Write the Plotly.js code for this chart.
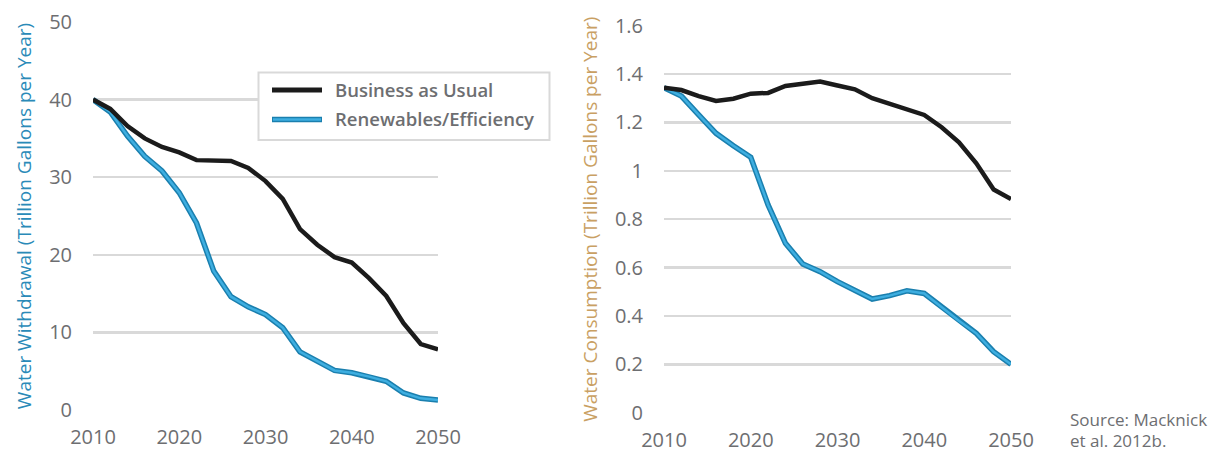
<!DOCTYPE html>
<html>
<head>
<meta charset="utf-8">
<script src="https://cdn.plot.ly/plotly-3.0.1.min.js"></script>
<style>html,body{margin:0;padding:0;background:#fff;}#chart{width:1211px;height:452px;}</style>
</head>
<body>
<div id="chart"></div>
<script>
const years = [2010,2012,2014,2016,2018,2020,2022,2024,2026,2028,2030,2032,2034,2036,2038,2040,2042,2044,2046,2048,2050];
const withdrawalBAU = [40,38.8,36.6,35.0,33.9,33.2,32.2,32.2,32.1,31.2,29.5,27.2,23.3,21.3,19.7,19.0,17.0,14.7,11.2,8.5,7.8];
const withdrawalRE = [40,38.4,35.3,32.7,30.8,28.0,24.1,17.9,14.6,13.3,12.3,10.6,7.5,6.3,5.1,4.8,4.3,3.7,2.2,1.5,1.3];
const consumptionBAU = [1.344,1.334,1.309,1.289,1.298,1.319,1.322,1.351,1.360,1.369,1.353,1.337,1.300,1.278,1.256,1.231,1.180,1.118,1.031,0.923,0.883];
const consumptionRE = [1.344,1.309,1.231,1.155,1.104,1.056,0.859,0.700,0.615,0.583,0.542,0.507,0.470,0.484,0.504,0.493,0.436,0.380,0.328,0.252,0.200];
const seriesNames = ["Business as Usual","Renewables/Efficiency"];
const xTicks = [2010,2020,2030,2040,2050];
const leftTicks = [0,10,20,30,40,50];
const rightTicks = [0,0.2,0.4,0.6,0.8,1,1.2,1.4,1.6];
const rightTickText = ["0","0.2","0.4","0.6","0.8","1","1.2","1.4","1.6"];
const leftTitle = "Water Withdrawal (Trillion Gallons per Year)";
const rightTitle = "Water Consumption (Trillion Gallons per Year)";
const sourceLines = ["Source: Macknick", "et al. 2012b."];

const BLACK = "#1b1b1b", BLUE_OUT = "#1a7fae", BLUE_IN = "#3eaee0", GRAY = "#6d6e71", GRID = "#d9d9d9";
const font = "Open Sans, sans-serif";

function trace(x, y, color, width, xa, ya) {
  return {x: x, y: y, type: "scatter", mode: "lines", xaxis: xa, yaxis: ya,
    line: {color: color, width: width, shape: "linear"}, showlegend: false, hoverinfo: "skip"};
}
const data = [
  trace(years, withdrawalRE, BLUE_OUT, 5.5, "x", "y"),
  trace(years, withdrawalRE, BLUE_IN, 2.5, "x", "y"),
  trace(years, withdrawalBAU, BLACK, 4.5, "x", "y"),
  trace(years, consumptionRE, BLUE_OUT, 5.5, "x2", "y2"),
  trace(years, consumptionRE, BLUE_IN, 2.5, "x2", "y2"),
  trace(years, consumptionBAU, BLACK, 4.5, "x2", "y2")
];

const W = 1211, H = 452;
const px = v => v / W, py = v => 1 - v / H;

const xaxisBase = {range: [2010, 2050], tickvals: xTicks, showgrid: false, zeroline: false, showline: false,
  ticks: "", ticklabelstandoff: 13, tickfont: {family: font, size: 20, color: GRAY}, fixedrange: true};
const yaxisBase = {showgrid: true, gridcolor: GRID, gridwidth: 2.5, zeroline: false, showline: false, ticks: "",
  ticklabelstandoff: 20, tickfont: {family: font, size: 20, color: GRAY}, fixedrange: true};

const layout = {
  width: W, height: H, margin: {l: 0, r: 0, t: 0, b: 0, pad: 0},
  paper_bgcolor: "#fff", plot_bgcolor: "#fff", showlegend: false,
  xaxis: Object.assign({}, xaxisBase, {domain: [px(93), px(438)], anchor: "y"}),
  yaxis: Object.assign({}, yaxisBase, {domain: [py(410), py(22)], range: [0, 50], tickvals: leftTicks, anchor: "x",
    title: {text: leftTitle, standoff: 12, font: {family: font, size: 19, color: "#2a8ab8"}}}),
  xaxis2: Object.assign({}, xaxisBase, {domain: [px(664), px(1011)], anchor: "y2"}),
  yaxis2: Object.assign({}, yaxisBase, {domain: [py(412.7), py(25.7)], range: [0, 1.6], tickvals: rightTicks, ticktext: rightTickText, anchor: "x2",
    title: {text: rightTitle, standoff: 12, font: {family: font, size: 19, color: "#c9a063"}}}),
  shapes: [
    {type: "rect", xref: "paper", yref: "paper", x0: px(258.5), x1: px(549.5), y0: py(140), y1: py(72.5),
      fillcolor: "#fff", line: {color: GRID, width: 2}, layer: "above"},
    {type: "line", xref: "paper", yref: "paper", x0: px(272), x1: px(322), y0: py(90), y1: py(90),
      line: {color: BLACK, width: 5}, layer: "above"},
    {type: "line", xref: "paper", yref: "paper", x0: px(272), x1: px(322), y0: py(119.5), y1: py(119.5),
      line: {color: BLUE_OUT, width: 5.5}, layer: "above"},
    {type: "line", xref: "paper", yref: "paper", x0: px(273), x1: px(321), y0: py(119.5), y1: py(119.5),
      line: {color: BLUE_IN, width: 2.5}, layer: "above"}
  ],
  annotations: [
    {xref: "paper", yref: "paper", x: px(333), y: py(89), xanchor: "left", yanchor: "middle", showarrow: false,
      text: seriesNames[0], font: {family: font, size: 18.5, color: GRAY, weight: 600}},
    {xref: "paper", yref: "paper", x: px(333), y: py(118.5), xanchor: "left", yanchor: "middle", showarrow: false,
      text: seriesNames[1], font: {family: font, size: 18.5, color: GRAY, weight: 600}},
    {xref: "paper", yref: "paper", x: px(1068), y: py(419), xanchor: "left", yanchor: "middle", showarrow: false,
      text: sourceLines[0], font: {family: font, size: 17, color: GRAY}},
    {xref: "paper", yref: "paper", x: px(1068), y: py(440), xanchor: "left", yanchor: "middle", showarrow: false,
      text: sourceLines[1], font: {family: font, size: 17, color: GRAY}}
  ]
};

Plotly.newPlot("chart", data, layout, {staticPlot: true, displayModeBar: false});
</script>
</body>
</html>
